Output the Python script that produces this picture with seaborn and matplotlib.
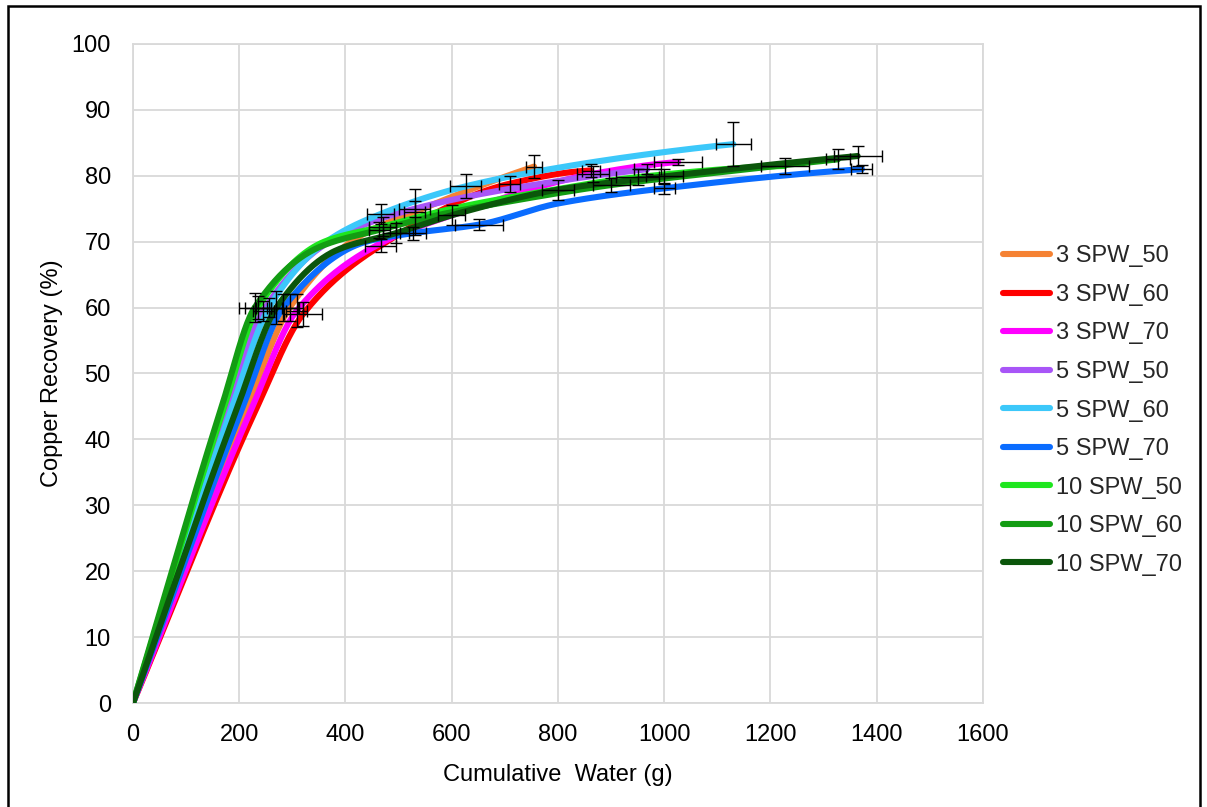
import numpy as np
import pandas as pd
import matplotlib
matplotlib.use("Agg")
import matplotlib.pyplot as plt
from matplotlib.patches import Rectangle
import seaborn as sns

# Leaching test series: cumulative water added (g) vs copper recovery (%).
# Error values of 0 mean no error bar is drawn at that point.
series_names = ["3 SPW_50", "3 SPW_60", "3 SPW_70",
                "5 SPW_50", "5 SPW_60", "5 SPW_70",
                "10 SPW_50", "10 SPW_60", "10 SPW_70"]

water_3_50 = [0, 215, 295, 420, 530, 755]
rec_3_50 = [0, 45.0, 60.0, 70.5, 74.5, 81.4]
werr_3_50 = [0, 0, 25, 0, 20, 15]
rerr_3_50 = [0, 0, 2.0, 0, 3.5, 1.8]

water_3_60 = [0, 234, 320, 466, 709, 862]
rec_3_60 = [0, 45.0, 59.0, 69.4, 78.8, 80.8]
werr_3_60 = [0, 0, 35, 30, 20, 17]
rerr_3_60 = [0, 0, 1.8, 1.0, 1.2, 1.0]

water_3_70 = [0, 225, 308, 477, 600, 866, 1026]
rec_3_70 = [0, 45.0, 59.5, 70.2, 74.0, 80.3, 82.1]
werr_3_70 = [0, 0, 20, 0, 25, 30, 45]
rerr_3_70 = [0, 0, 2.5, 0, 1.5, 1.2, 0.5]

water_5_50 = [0, 179, 245, 380, 530, 800, 968]
rec_5_50 = [0, 45.0, 59.5, 70.5, 75.0, 79.2, 81.0]
werr_5_50 = [0, 0, 20, 0, 30, 0, 25]
rerr_5_50 = [0, 0, 1.5, 0, 1.2, 0, 0.8]

water_5_60 = [0, 187, 256, 364, 466, 626, 806, 1000, 1130]
rec_5_60 = [0, 45.0, 60.0, 70.0, 74.2, 78.4, 81.3, 83.6, 84.8]
werr_5_60 = [0, 0, 25, 0, 25, 30, 0, 0, 33]
rerr_5_60 = [0, 0, 1.5, 0, 1.5, 1.8, 0, 0, 3.3]

water_5_70 = [0, 207, 283, 439, 527, 652, 800, 1000, 1372]
rec_5_70 = [0, 45.0, 60.0, 70.0, 71.3, 72.6, 75.8, 78.1, 81.0]
werr_5_70 = [0, 0, 30, 0, 25, 45, 0, 20, 20]
rerr_5_70 = [0, 0, 2.0, 0, 1.0, 0.8, 0, 0.8, 0.6]

water_10_50 = [0, 172, 235, 360, 470, 600, 750, 950, 1227]
rec_10_50 = [0, 45.0, 60.0, 70.0, 72.3, 75.0, 77.3, 79.8, 81.5]
werr_10_50 = [0, 0, 25, 0, 25, 0, 0, 40, 45]
rerr_10_50 = [0, 0, 1.8, 0, 1.5, 0, 0, 1.2, 1.2]

water_10_60 = [0, 167, 229, 351, 464, 589, 715, 900, 1100, 1327]
rec_10_60 = [0, 45.0, 60.0, 69.2, 71.8, 74.3, 76.2, 78.6, 80.5, 82.5]
werr_10_60 = [0, 0, 30, 0, 20, 0, 0, 35, 0, 22]
rerr_10_60 = [0, 0, 2.2, 0, 1.2, 0, 0, 1.0, 0, 1.5]

water_10_70 = [0, 197, 270, 383, 495, 621, 800, 1000, 1364]
rec_10_70 = [0, 45.0, 60.0, 68.7, 71.3, 74.5, 77.9, 79.9, 83.0]
werr_10_70 = [0, 0, 40, 0, 25, 0, 30, 35, 45]
rerr_10_70 = [0, 0, 2.5, 0, 1.5, 0, 1.5, 1.2, 1.5]

colors = ["#F58233", "#FF0000", "#FF00FF",
          "#A855F7", "#3CC8FA", "#0A6CFF",
          "#1EE61E", "#139C13", "#0B560B"]

x_ticks = [0, 200, 400, 600, 800, 1000, 1200, 1400, 1600]
y_ticks = [0, 10, 20, 30, 40, 50, 60, 70, 80, 90, 100]

water = [water_3_50, water_3_60, water_3_70, water_5_50, water_5_60,
         water_5_70, water_10_50, water_10_60, water_10_70]
recovery = [rec_3_50, rec_3_60, rec_3_70, rec_5_50, rec_5_60,
            rec_5_70, rec_10_50, rec_10_60, rec_10_70]
water_err = [werr_3_50, werr_3_60, werr_3_70, werr_5_50, werr_5_60,
             werr_5_70, werr_10_50, werr_10_60, werr_10_70]
rec_err = [rerr_3_50, rerr_3_60, rerr_3_70, rerr_5_50, rerr_5_60,
           rerr_5_70, rerr_10_50, rerr_10_60, rerr_10_70]


def smooth_path(xs, ys, n=40):
    """Shape-preserving cubic (Fritsch-Carlson) path through the points."""
    x = np.asarray(xs, float)
    y = np.asarray(ys, float)
    h = np.diff(x)
    d = np.diff(y) / h
    m = np.zeros_like(x)
    m[0] = d[0]
    for k in range(1, len(x) - 1):
        if d[k - 1] * d[k] > 0:
            w1 = 2 * h[k] + h[k - 1]
            w2 = h[k] + 2 * h[k - 1]
            m[k] = (w1 + w2) / (w1 / d[k - 1] + w2 / d[k])
    end = ((2 * h[-1] + h[-2]) * d[-1] - h[-1] * d[-2]) / (h[-1] + h[-2])
    if end * d[-1] <= 0:
        end = 0.0
    elif d[-1] * d[-2] < 0 and abs(end) > abs(3 * d[-1]):
        end = 3 * d[-1]
    m[-1] = end
    px, py = [x[0]], [y[0]]
    t = np.linspace(0, 1, n)[1:]
    h00 = 2 * t ** 3 - 3 * t ** 2 + 1
    h10 = t ** 3 - 2 * t ** 2 + t
    h01 = -2 * t ** 3 + 3 * t ** 2
    h11 = t ** 3 - t ** 2
    for k in range(len(x) - 1):
        px.extend(x[k] + t * h[k])
        py.extend(h00 * y[k] + h10 * h[k] * m[k] + h01 * y[k + 1]
                  + h11 * h[k] * m[k + 1])
    return np.array(px), np.array(py)


sns.set_theme(style="white")
plt.rcParams["font.family"] = ["Liberation Sans", "DejaVu Sans"]

fig = plt.figure(figsize=(12.07, 8.07), dpi=100)
ax = fig.add_axes([133 / 1207, 1 - 703 / 807, 850 / 1207, 659 / 807])

for name, xs, ys, xe, ye, col in zip(series_names, water, recovery,
                                     water_err, rec_err, colors):
    sx, sy = smooth_path(xs, ys)
    curve = pd.DataFrame({"water": sx, "recovery": sy})
    sns.lineplot(data=curve, x="water", y="recovery", sort=False,
                 estimator=None, color=col, linewidth=4.4, label=name,
                 solid_capstyle="round", ax=ax, zorder=3)
    keep = [i for i in range(len(xs)) if xe[i] > 0 or ye[i] > 0]
    ax.errorbar([xs[i] for i in keep], [ys[i] for i in keep],
                xerr=[xe[i] for i in keep], yerr=[ye[i] for i in keep],
                fmt="none", ecolor="black", elinewidth=1.0, capsize=4,
                capthick=1.0, zorder=4)

ax.set_xlim(0, 1600)
ax.set_ylim(0, 100)
ax.set_xticks(x_ticks)
ax.set_yticks(y_ticks)
ax.grid(True, color="#d9d9d9", linewidth=1.3)
ax.set_axisbelow(True)
for sp in ax.spines.values():
    sp.set_color("#d9d9d9")
    sp.set_linewidth(1.3)
ax.tick_params(axis="both", length=0, labelsize=17, colors="black")
ax.tick_params(axis="x", pad=15)
ax.tick_params(axis="y", pad=16)

ax.set_xlabel("Cumulative  Water (g)", fontsize=17, color="black", labelpad=13)
ax.set_ylabel("Copper Recovery (%)", fontsize=17, color="black", labelpad=6)

handles, labels = ax.get_legend_handles_labels()
ax.legend(handles, labels, loc="center left",
          bbox_to_anchor=(1003 / 1207, 1 - 410.5 / 807),
          bbox_transform=fig.transFigure, frameon=False, fontsize=17,
          handlelength=2.0, handletextpad=0.25, labelspacing=0.70,
          borderpad=0, borderaxespad=0)

fig.add_artist(Rectangle((8 / 1207, -0.05), 1192 / 1207, 1.05 - 6 / 807,
                         transform=fig.transFigure, fill=False,
                         edgecolor="black", linewidth=1.8))

fig.savefig("out.png", dpi=100, facecolor="white")
